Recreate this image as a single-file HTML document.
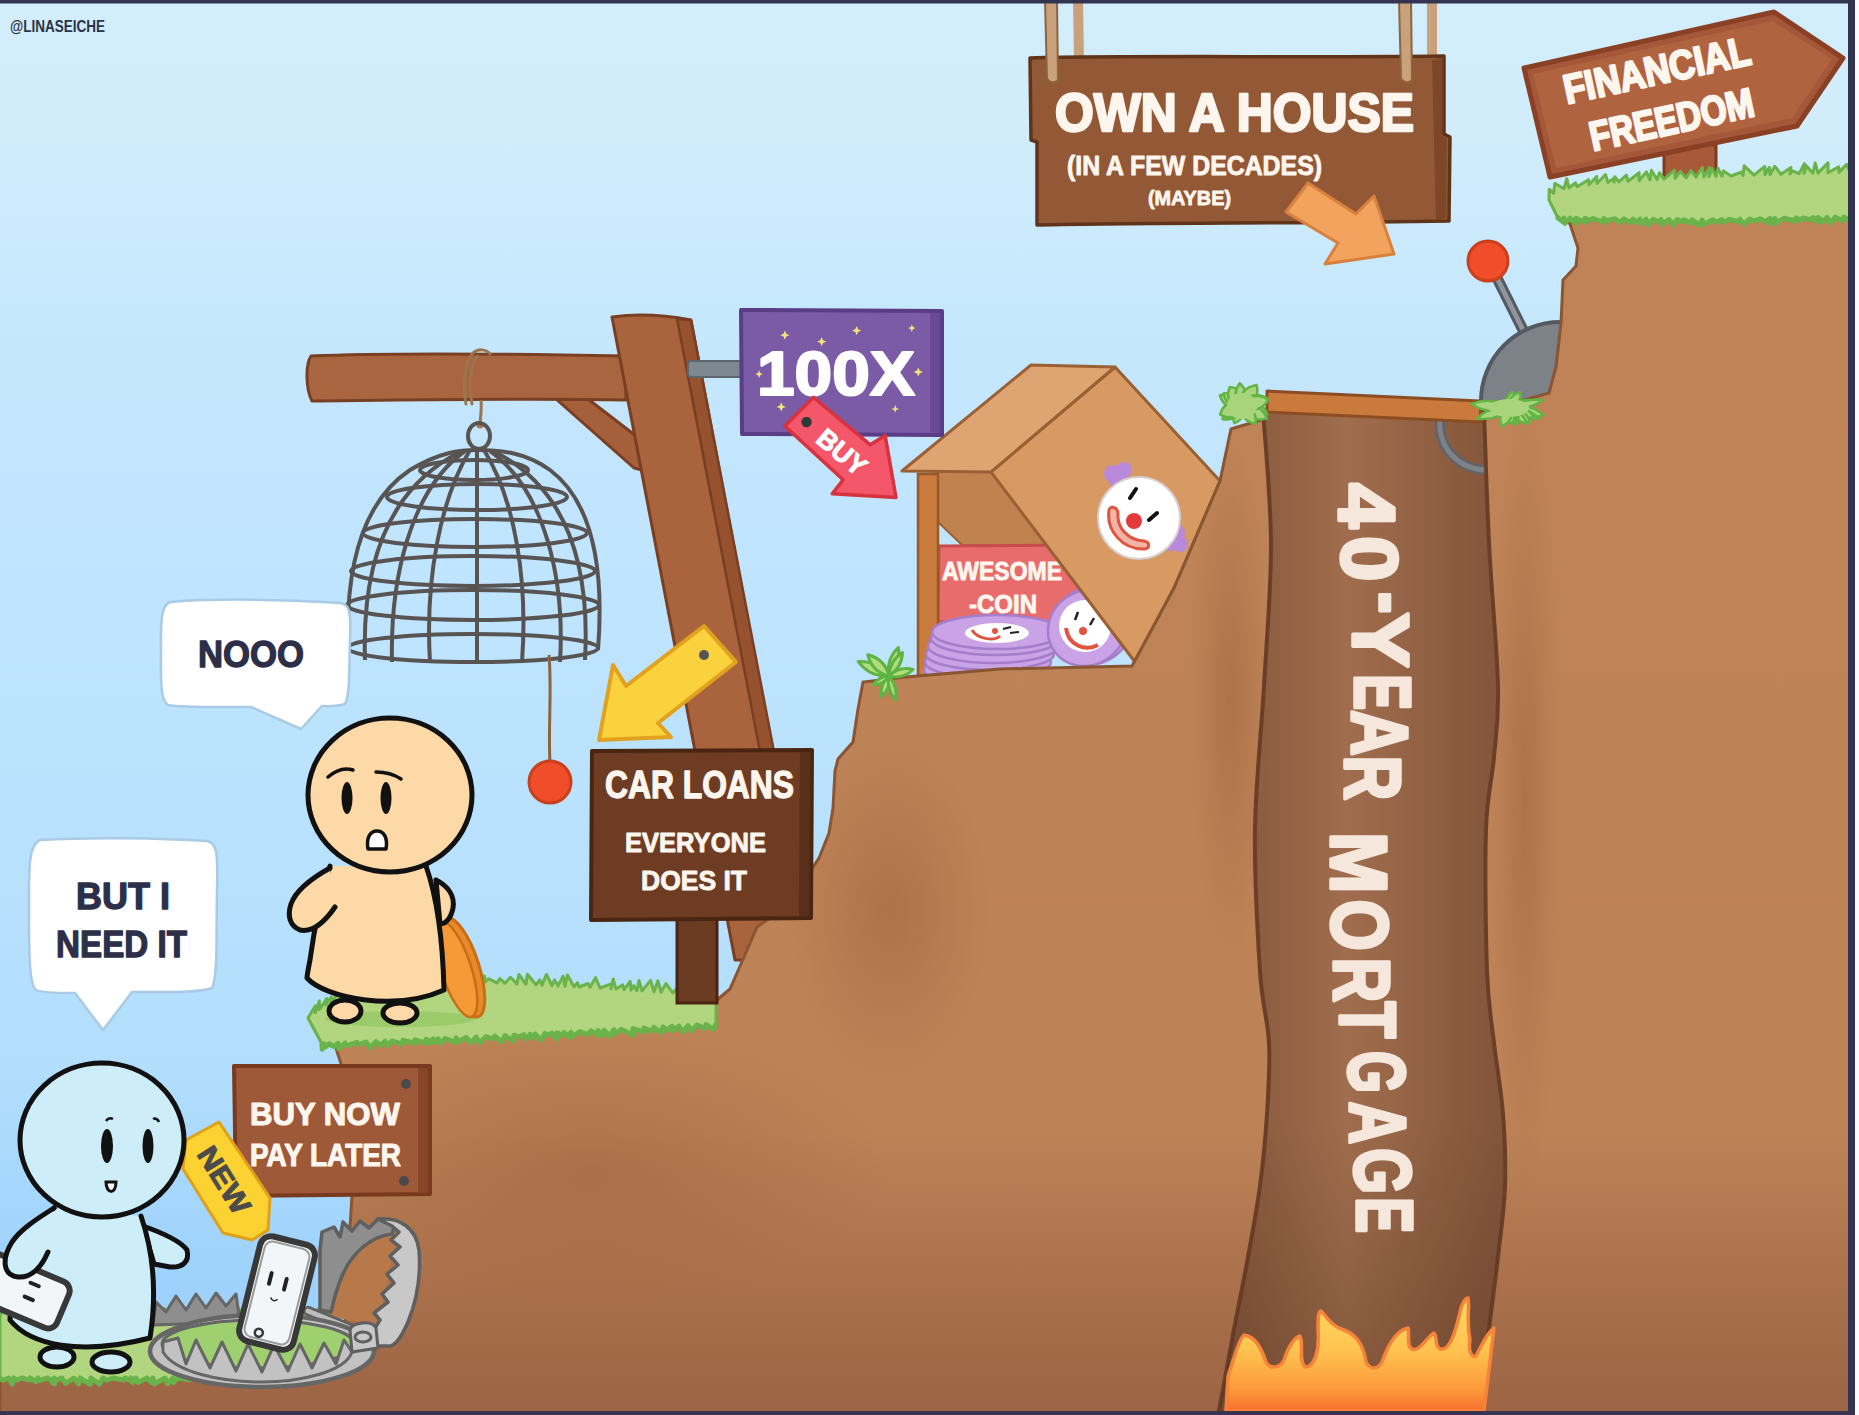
<!DOCTYPE html>
<html><head><meta charset="utf-8">
<style>
html,body{margin:0;padding:0;width:1859px;height:1415px;overflow:hidden;background:#fff;}
svg{display:block;position:absolute;left:0;top:0;}
text{font-family:"Liberation Sans",sans-serif;font-weight:bold;}
</style></head>
<body>
<svg width="1859" height="1415" viewBox="0 0 1859 1415">
<defs>
<linearGradient id="sky" gradientUnits="userSpaceOnUse" x1="0" y1="0" x2="0" y2="1415">
<stop offset="0.0000" stop-color="#d2edfb"/>
<stop offset="0.0919" stop-color="#d1edfc"/>
<stop offset="0.2191" stop-color="#c6e8fd"/>
<stop offset="0.2968" stop-color="#c3e6fe"/>
<stop offset="0.5088" stop-color="#bce3fe"/>
<stop offset="0.7562" stop-color="#b2defc"/>
<stop offset="0.8834" stop-color="#a0d3fc"/>
<stop offset="1.0000" stop-color="#98cefa"/>
</linearGradient>
<linearGradient id="dirt" gradientUnits="userSpaceOnUse" x1="0" y1="200" x2="0" y2="1411">
<stop offset="0" stop-color="#bf8357"/>
<stop offset="0.77" stop-color="#bd8256"/>
<stop offset="0.9" stop-color="#a9704b"/>
<stop offset="1" stop-color="#9d6445"/>
</linearGradient>
<linearGradient id="pitg" x1="0" y1="0" x2="1" y2="0">
<stop offset="0" stop-color="#84553a"/>
<stop offset="0.15" stop-color="#8d5d40"/>
<stop offset="0.45" stop-color="#a06e4e"/>
<stop offset="0.8" stop-color="#8d5d40"/>
<stop offset="1" stop-color="#82543a"/>
</linearGradient>
<linearGradient id="fire" gradientUnits="userSpaceOnUse" x1="0" y1="1300" x2="0" y2="1411">
<stop offset="0" stop-color="#ffd860"/>
<stop offset="0.45" stop-color="#ffc350"/>
<stop offset="0.8" stop-color="#fd9a3c"/>
<stop offset="1" stop-color="#f7702e"/>
</linearGradient>
<linearGradient id="pitshade" gradientUnits="userSpaceOnUse" x1="0" y1="1120" x2="0" y2="1360">
<stop offset="0" stop-color="#4a2a18" stop-opacity="0"/>
<stop offset="1" stop-color="#4a2a18" stop-opacity="0.28"/>
</linearGradient>
<radialGradient id="shade">
<stop offset="0" stop-color="#9a5f38" stop-opacity="0.45"/>
<stop offset="1" stop-color="#9a5f38" stop-opacity="0"/>
</radialGradient>
<clipPath id="terrclip"><path d="M0,1340 L345,1330 L350,1228 L352,1196 L348,1120 L343,1070 L335,1045 L330,1030 L717,1000 L730,989 L744,957 L757,927 L774,915 L804,897 L809,873 L819,858 L829,833 L833,808 L835,771 L838,759 L853,742 L858,709 L863,682 L906,677 L1000,669 L1132,666 L1174,588 L1220,481 L1231,429 L1261,420 L1485,420 L1489,410 L1549,393 L1556,367 L1561,323 L1563,280 L1576,266 L1578,248 L1570,224 L1560,215 L1850,210 L1850,1415 L0,1415 Z"/></clipPath>
</defs>
<rect x="0" y="0" width="1859" height="1415" fill="url(#sky)"/>
<!-- GALLOWS (behind terrain) -->
<g stroke="#7a3f22" stroke-width="3" stroke-linejoin="round">
<path d="M556,399 L588,399 L636,436 L642,470 L634,468 Z" fill="#a55f3b"/>
<path d="M311,356 C400,352 520,354 625,356 L626,400 C520,398 420,400 312,401 C306,390 305,365 311,356 Z" fill="#a9653f"/>
<path d="M612,317 C640,313 670,316 691,320 L812,960 L735,960 Z" fill="#a9643e"/>
<path d="M677,319 L691,320 L814,960 L800,960 Z" fill="#96512f" stroke-width="2.5"/>
</g>
<rect x="688" y="361" width="55" height="16" rx="3" fill="#7e8890" stroke="#5d666c" stroke-width="2"/>
<!-- ropes behind house sign -->
<g stroke="#8c6440" stroke-width="2" fill="none">
<path d="M1078,0 L1079,60" stroke="#c9a27b" stroke-width="10"/>
<path d="M1432,0 L1432,60" stroke="#c9a27b" stroke-width="10"/>
</g>
<rect x="1664" y="145" width="52" height="60" fill="#a85a38" stroke="#7e3c1f" stroke-width="3"/>
<!-- lever (behind terrain) -->
<path d="M1489,262 L1524,332" stroke="#545a5f" stroke-width="11" stroke-linecap="round"/>
<path d="M1489,262 L1524,332" stroke="#8f959a" stroke-width="5" stroke-linecap="round"/>
<circle cx="1488" cy="261" r="20" fill="#f04e2a" stroke="#cc3f1c" stroke-width="3"/>
<circle cx="1560" cy="401" r="79" fill="#7c8288" stroke="#545a5f" stroke-width="4"/>
<!-- BOX (behind terrain) -->
<path d="M936,472 L991,472 L1054,547 L962,545 L936,520 Z" fill="#c08350" stroke="#9a6034" stroke-width="2" stroke-linejoin="round"/>
<path d="M939,546 L1078,545 L1079,622 L938,622 Z" fill="#e96c6c" stroke="#c84c4c" stroke-width="3"/>
<text x="942" y="580" font-size="25" fill="#fff6ee" textLength="120" lengthAdjust="spacingAndGlyphs" stroke="#fff6ee" stroke-width="0.9" stroke-linejoin="round">AWESOME</text>
<text x="969" y="613" font-size="25" fill="#fff6ee" textLength="68" lengthAdjust="spacingAndGlyphs" stroke="#fff6ee" stroke-width="0.9" stroke-linejoin="round">-COIN</text>
<rect x="918" y="474" width="20" height="210" fill="#c97c3e" stroke="#9a5828" stroke-width="2.5"/>
<g stroke="#a47ecb" stroke-width="2.5" fill="#c9a3e6">
<ellipse cx="986" cy="670" rx="62" ry="16"/>
<ellipse cx="988" cy="662" rx="63" ry="16"/>
<ellipse cx="990" cy="654" rx="64" ry="16"/>
<ellipse cx="993" cy="646" rx="65" ry="17"/>
<ellipse cx="996" cy="638" rx="65" ry="17"/>
<ellipse cx="997" cy="632" rx="65" ry="17"/>
</g>
<ellipse cx="997" cy="633" rx="32" ry="10" fill="#ffffff"/>
<path d="M972,630 C978,640 995,641 1000,636" stroke="#e0553f" stroke-width="3" fill="none"/>
<circle cx="995" cy="631" r="3" fill="#e0553f"/>
<path d="M1003,629 l8,-2 M1010,633 l9,-1" stroke="#222" stroke-width="2"/>
<g transform="rotate(-35 1088 626)">
<ellipse cx="1092" cy="628" rx="42" ry="38" fill="#c9a3e6" stroke="#a47ecb" stroke-width="2.5"/>
<ellipse cx="1086" cy="627" rx="40" ry="37" fill="#c9a3e6" stroke="#a47ecb" stroke-width="2.5"/>
</g>
<circle cx="1085" cy="626" r="26" fill="#ffffff"/>
<path d="M1066,628 C1068,645 1085,652 1098,645" stroke="#e0553f" stroke-width="4" fill="none"/>
<circle cx="1083" cy="631" r="4" fill="#e0553f"/>
<path d="M1078,612 l-3,8 M1094,618 l-4,7" stroke="#222" stroke-width="2.5"/>
<path d="M991,472 L1115,367 L1220,481 L1174,588 L1135,662 Z" fill="#d79a62" stroke="#9a6034" stroke-width="3" stroke-linejoin="round"/>
<path d="M902,471 L1031,365 L1115,367 L991,472 Z" fill="#dea573" stroke="#9a6034" stroke-width="3" stroke-linejoin="round"/>
<!-- clown on box -->
<g>
<circle cx="1113" cy="474" r="9" fill="#b98ad9"/><circle cx="1124" cy="470" r="8" fill="#b98ad9"/><circle cx="1118" cy="482" r="8" fill="#b98ad9"/>
<circle cx="1176" cy="533" r="9" fill="#b98ad9"/><circle cx="1180" cy="544" r="8" fill="#b98ad9"/><circle cx="1170" cy="543" r="8" fill="#b98ad9"/>
<circle cx="1139" cy="518" r="41" fill="#ffffff" stroke="#d8d0d0" stroke-width="2"/>
<path d="M1109,510 C1106,530 1122,550 1145,549 C1150,548 1150,542 1144,541 C1128,540 1117,528 1118,514 C1118,507 1110,505 1109,510 Z" fill="#f2b4a6" stroke="#e0553f" stroke-width="3"/>
<circle cx="1134" cy="521" r="8" fill="#e33b3b"/>
<path d="M1130,498 l6,-9 M1149,520 l8,-7" stroke="#111" stroke-width="4" stroke-linecap="round"/>
</g>
<path id="terrain" d="M0,1340 L345,1330 L350,1228 L352,1196 L348,1120 L343,1070 L335,1045 L330,1030 L717,1000 L730,989 L744,957 L757,927 L774,915 L804,897 L809,873 L819,858 L829,833 L833,808 L835,771 L838,759 L853,742 L858,709 L863,682 L906,677 L1000,669 L1132,666 L1174,588 L1220,481 L1231,429 L1261,420 L1485,420 L1489,410 L1549,393 L1556,367 L1561,323 L1563,280 L1576,266 L1578,248 L1570,224 L1560,215 L1850,210 L1850,1415 L0,1415 Z" fill="url(#dirt)" stroke="#8a5530" stroke-width="3"/>
<g clip-path="url(#terrclip)"><ellipse cx="890" cy="910" rx="100" ry="170" fill="url(#shade)"/><ellipse cx="590" cy="1170" rx="300" ry="140" fill="url(#shade)"/><ellipse cx="1230" cy="700" rx="40" ry="260" fill="url(#shade)"/><ellipse cx="1525" cy="800" rx="35" ry="400" fill="url(#shade)"/></g>
<path d="M1263.0,410.0 C1264.3,432.2 1270.8,497.0 1271.0,543.0 C1271.2,589.0 1266.7,638.3 1264.0,686.0 C1261.3,733.7 1255.7,781.5 1255.0,829.0 C1254.3,876.5 1257.7,935.3 1260.0,971.0 C1262.3,1006.7 1267.8,1019.2 1269.0,1043.0 C1270.2,1066.8 1268.5,1090.2 1267.0,1114.0 C1265.5,1137.8 1263.2,1162.2 1260.0,1186.0 C1256.8,1209.8 1252.3,1233.2 1248.0,1257.0 C1243.7,1280.8 1238.5,1305.2 1234.0,1329.0 C1229.5,1352.8 1223.8,1384.8 1221.0,1400.0 C1218.2,1415.2 1217.7,1416.7 1217.0,1420.0 L1478.0,1420.0 C1478.3,1416.7 1478.2,1415.2 1480.0,1400.0 C1481.8,1384.8 1486.0,1352.8 1489.0,1329.0 C1492.0,1305.2 1495.3,1280.8 1498.0,1257.0 C1500.7,1233.2 1504.2,1209.8 1505.0,1186.0 C1505.8,1162.2 1504.8,1137.8 1503.0,1114.0 C1501.2,1090.2 1496.7,1066.8 1494.0,1043.0 C1491.3,1019.2 1488.3,1006.7 1487.0,971.0 C1485.7,935.3 1484.8,864.7 1486.0,829.0 C1487.2,793.3 1492.0,780.8 1494.0,757.0 C1496.0,733.2 1498.8,721.7 1498.0,686.0 C1497.2,650.3 1491.3,589.0 1489.0,543.0 C1486.7,497.0 1484.8,432.2 1484.0,410.0 Z" fill="url(#pitg)" stroke="#6b3f27" stroke-width="4"/>
<path d="M1263.0,410.0 C1264.3,432.2 1270.8,497.0 1271.0,543.0 C1271.2,589.0 1266.7,638.3 1264.0,686.0 C1261.3,733.7 1255.7,781.5 1255.0,829.0 C1254.3,876.5 1257.7,935.3 1260.0,971.0 C1262.3,1006.7 1267.8,1019.2 1269.0,1043.0 C1270.2,1066.8 1268.5,1090.2 1267.0,1114.0 C1265.5,1137.8 1263.2,1162.2 1260.0,1186.0 C1256.8,1209.8 1252.3,1233.2 1248.0,1257.0 C1243.7,1280.8 1238.5,1305.2 1234.0,1329.0 C1229.5,1352.8 1223.8,1384.8 1221.0,1400.0 C1218.2,1415.2 1217.7,1416.7 1217.0,1420.0 L1478.0,1420.0 C1478.3,1416.7 1478.2,1415.2 1480.0,1400.0 C1481.8,1384.8 1486.0,1352.8 1489.0,1329.0 C1492.0,1305.2 1495.3,1280.8 1498.0,1257.0 C1500.7,1233.2 1504.2,1209.8 1505.0,1186.0 C1505.8,1162.2 1504.8,1137.8 1503.0,1114.0 C1501.2,1090.2 1496.7,1066.8 1494.0,1043.0 C1491.3,1019.2 1488.3,1006.7 1487.0,971.0 C1485.7,935.3 1484.8,864.7 1486.0,829.0 C1487.2,793.3 1492.0,780.8 1494.0,757.0 C1496.0,733.2 1498.8,721.7 1498.0,686.0 C1497.2,650.3 1491.3,589.0 1489.0,543.0 C1486.7,497.0 1484.8,432.2 1484.0,410.0 Z" fill="url(#pitshade)"/>
<g font-size="80" fill="#f6e7dc" stroke="#f6e7dc" stroke-width="3.5" stroke-linejoin="round">
<text transform="translate(1367,506) rotate(90) scale(1.022,1)" x="-22.5" y="27.5">4</text>
<text transform="translate(1370,559) rotate(90) scale(1.022,1)" x="-22.5" y="27.5">0</text>
<text transform="translate(1377,603) rotate(90) scale(0.815,1)" x="-13.5" y="13.0">-</text>
<text transform="translate(1381,640) rotate(90) scale(1.038,1)" x="-26.5" y="28.0">Y</text>
<text transform="translate(1383,692) rotate(90) scale(0.679,1)" x="-26.5" y="27.5">E</text>
<text transform="translate(1380,733) rotate(90) scale(0.793,1)" x="-29.0" y="27.5">A</text>
<text transform="translate(1373,778) rotate(90) scale(0.776,1)" x="-29.0" y="27.5">R</text>
<text transform="translate(1359,863) rotate(90) scale(0.925,1)" x="-33.5" y="27.5">M</text>
<text transform="translate(1360,925) rotate(90) scale(0.823,1)" x="-31.0" y="27.5">O</text>
<text transform="translate(1362,980) rotate(90) scale(0.776,1)" x="-29.0" y="27.5">R</text>
<text transform="translate(1368,1020) rotate(90) scale(0.755,1)" x="-24.5" y="27.5">T</text>
<text transform="translate(1377,1072) rotate(90) scale(0.677,1)" x="-31.0" y="27.5">G</text>
<text transform="translate(1378,1123) rotate(90) scale(0.741,1)" x="-29.0" y="27.5">A</text>
<text transform="translate(1383,1171) rotate(90) scale(0.742,1)" x="-31.0" y="27.5">G</text>
<text transform="translate(1385,1215) rotate(90) scale(0.679,1)" x="-26.5" y="27.5">E</text>
</g>

<!-- flames -->
<path d="M1228,1376 C1234,1360 1238,1340 1244,1335 C1256,1336 1262,1350 1266,1362 C1270,1370 1280,1368 1284,1360 C1288,1348 1294,1338 1300,1336 C1304,1345 1298,1360 1305,1367 C1314,1368 1320,1350 1318,1330 C1318,1318 1318,1312 1321,1311 C1326,1315 1330,1326 1344,1330 C1360,1336 1364,1350 1366,1362 C1370,1370 1378,1370 1382,1362 C1388,1345 1396,1330 1408,1328 C1410,1335 1406,1346 1412,1349 C1420,1352 1426,1338 1434,1333 C1438,1338 1434,1346 1440,1349 C1450,1352 1456,1330 1460,1312 C1462,1302 1466,1298 1468,1298 C1470,1308 1466,1320 1470,1340 C1468,1352 1472,1358 1476,1356 C1482,1345 1486,1334 1494,1328 L1484,1411 L1226,1411 Z" fill="url(#fire)" stroke="#f5843a" stroke-width="3.5" stroke-linejoin="round"/>
<!-- grass -->
<path d="M1549.0,200.0 L1549.2,189.2 L1553.7,193.3 L1554.8,183.4 L1564.0,188.7 L1566.8,178.6 L1569.0,187.9 L1575.5,182.8 L1577.0,186.7 L1588.5,179.7 L1589.0,184.8 L1596.7,176.4 L1597.0,183.5 L1605.5,174.5 L1608.0,182.5 L1614.3,178.0 L1614.0,182.2 L1614.7,176.7 L1619.0,181.9 L1626.4,175.0 L1628.0,181.3 L1639.2,172.7 L1639.0,180.7 L1646.4,171.9 L1650.0,180.0 L1651.4,170.3 L1657.0,179.6 L1659.5,172.7 L1664.0,179.2 L1674.5,170.1 L1675.0,178.5 L1680.3,171.4 L1686.0,177.8 L1691.1,170.5 L1696.0,177.2 L1702.3,167.4 L1704.0,176.9 L1709.5,167.5 L1709.0,176.7 L1712.0,168.4 L1716.0,176.5 L1717.9,168.1 L1722.0,176.3 L1723.5,170.9 L1731.0,176.0 L1741.8,172.0 L1743.0,175.6 L1744.3,165.8 L1754.0,175.2 L1764.7,166.3 L1765.0,174.8 L1769.3,167.2 L1770.0,174.7 L1774.7,166.2 L1781.0,174.3 L1790.9,167.4 L1790.0,174.0 L1791.9,170.6 L1799.0,173.7 L1804.4,163.6 L1804.0,173.5 L1806.3,165.8 L1813.0,173.2 L1815.2,162.9 L1818.0,173.1 L1828.0,162.8 L1828.0,172.7 L1838.7,166.7 L1839.0,172.4 L1846.7,164.4 L1850.0,172.0 L1850.0,217.0 L1850.2,221.2 L1844.0,217.1 L1842.4,220.7 L1835.0,217.3 L1831.3,222.8 L1827.0,217.5 L1823.8,221.3 L1818.0,217.6 L1818.4,222.5 L1813.0,217.7 L1810.2,219.7 L1803.0,217.9 L1801.1,220.0 L1796.0,218.1 L1796.2,221.3 L1784.0,218.3 L1776.1,223.1 L1775.0,218.5 L1770.6,224.1 L1770.0,218.6 L1765.6,221.4 L1760.0,218.8 L1752.9,221.3 L1750.0,219.0 L1743.6,224.2 L1740.0,219.2 L1739.0,221.5 L1729.0,219.4 L1724.3,222.5 L1722.0,219.6 L1715.6,222.3 L1713.0,219.7 L1704.2,224.2 L1702.0,220.0 L1699.7,225.4 L1692.0,219.9 L1691.6,223.3 L1684.0,219.8 L1682.9,221.8 L1677.0,219.7 L1673.4,224.9 L1669.0,219.6 L1662.1,224.4 L1661.0,219.5 L1660.5,222.4 L1653.0,219.3 L1649.1,224.4 L1646.0,219.2 L1642.7,224.1 L1640.0,219.2 L1637.3,222.5 L1633.0,219.1 L1630.6,222.6 L1624.0,218.9 L1619.6,222.3 L1615.0,218.8 L1605.2,221.1 L1604.0,218.6 L1604.9,222.5 L1593.0,218.5 L1589.5,220.3 L1585.0,218.4 L1584.9,222.2 L1576.0,218.3 L1576.4,223.3 L1570.0,218.2 L1564.9,223.1 L1564.0,218.1 L1565.0,223.3 L1558.0,218.0 Z" fill="#b2d57f" stroke="#69b34a" stroke-width="3" stroke-linejoin="round" stroke-linecap="round"/><path d="M1850.0,217.0 L1850.2,221.2 L1844.0,217.1 L1842.4,220.7 L1835.0,217.3 L1831.3,222.8 L1827.0,217.5 L1823.8,221.3 L1818.0,217.6 L1818.4,222.5 L1813.0,217.7 L1810.2,219.7 L1803.0,217.9 L1801.1,220.0 L1796.0,218.1 L1796.2,221.3 L1784.0,218.3 L1776.1,223.1 L1775.0,218.5 L1770.6,224.1 L1770.0,218.6 L1765.6,221.4 L1760.0,218.8 L1752.9,221.3 L1750.0,219.0 L1743.6,224.2 L1740.0,219.2 L1739.0,221.5 L1729.0,219.4 L1724.3,222.5 L1722.0,219.6 L1715.6,222.3 L1713.0,219.7 L1704.2,224.2 L1702.0,220.0 L1699.7,225.4 L1692.0,219.9 L1691.6,223.3 L1684.0,219.8 L1682.9,221.8 L1677.0,219.7 L1673.4,224.9 L1669.0,219.6 L1662.1,224.4 L1661.0,219.5 L1660.5,222.4 L1653.0,219.3 L1649.1,224.4 L1646.0,219.2 L1642.7,224.1 L1640.0,219.2 L1637.3,222.5 L1633.0,219.1 L1630.6,222.6 L1624.0,218.9 L1619.6,222.3 L1615.0,218.8 L1605.2,221.1 L1604.0,218.6 L1604.9,222.5 L1593.0,218.5 L1589.5,220.3 L1585.0,218.4 L1584.9,222.2 L1576.0,218.3 L1576.4,223.3 L1570.0,218.2 L1564.9,223.1 L1564.0,218.1 L1565.0,223.3 L1558.0,218.0" fill="none" stroke="#69b34a" stroke-width="5" stroke-linejoin="round" stroke-linecap="round"/>
<path d="M308.0,1018.0 L315.2,1005.9 L315.3,1012.7 L319.3,1001.0 L319.4,1009.7 L326.7,998.6 L325.9,1005.0 L331.3,996.9 L331.0,1001.9 L338.4,993.3 L341.9,1000.4 L344.4,990.7 L346.9,999.7 L352.9,988.5 L353.8,998.8 L355.0,988.8 L360.8,997.9 L362.0,992.6 L372.7,996.3 L374.3,990.8 L377.7,995.6 L380.4,984.7 L384.6,994.7 L390.8,986.4 L392.6,993.7 L401.1,988.2 L400.5,992.6 L408.5,980.8 L408.5,991.5 L413.1,987.3 L417.4,990.3 L420.4,984.3 L424.4,989.4 L428.4,980.8 L429.3,988.8 L434.8,982.4 L435.3,988.0 L438.7,978.1 L447.2,986.4 L449.1,976.4 L459.1,984.8 L461.4,973.4 L464.1,984.1 L473.8,979.7 L475.0,982.7 L484.4,975.9 L485.0,982.2 L488.4,978.7 L497.0,982.9 L499.8,978.6 L505.0,983.2 L510.5,977.3 L517.0,983.9 L518.9,974.4 L526.0,984.3 L527.4,974.2 L536.0,984.8 L539.7,979.8 L542.0,985.1 L546.4,974.5 L552.0,985.6 L554.5,979.8 L558.0,985.9 L563.1,976.2 L565.0,986.2 L567.4,975.0 L574.0,986.7 L577.5,982.7 L579.0,987.0 L588.2,983.5 L590.0,987.5 L595.6,977.6 L600.0,988.0 L611.9,983.7 L611.0,988.8 L613.2,979.0 L616.0,989.1 L622.7,984.8 L624.0,989.7 L630.2,981.4 L631.0,990.1 L633.8,985.5 L637.0,990.6 L639.0,980.5 L642.0,990.9 L650.6,980.4 L654.0,991.7 L657.9,980.7 L661.0,992.2 L666.0,983.6 L673.0,993.0 L677.5,987.5 L682.0,993.7 L688.5,989.5 L689.0,994.1 L693.2,985.9 L696.0,994.6 L701.9,990.0 L706.0,995.3 L715.0,991.7 L716.0,996.0 L716.0,1024.0 L713.6,1029.3 L706.0,1024.6 L704.2,1028.3 L697.0,1025.1 L691.3,1030.9 L688.0,1025.6 L683.0,1031.9 L679.0,1026.1 L672.8,1030.7 L672.0,1026.4 L666.4,1030.1 L663.0,1026.9 L660.7,1032.7 L654.0,1027.4 L651.4,1031.2 L644.0,1028.0 L643.4,1031.8 L633.0,1028.6 L633.7,1035.2 L621.0,1029.3 L615.9,1033.7 L614.0,1029.7 L609.8,1036.0 L604.0,1030.2 L603.0,1035.5 L598.0,1030.6 L598.3,1035.4 L591.0,1030.9 L587.2,1034.5 L580.0,1031.6 L572.1,1036.9 L571.0,1032.1 L569.1,1036.8 L564.0,1032.4 L562.5,1035.5 L557.0,1032.8 L557.4,1039.2 L552.0,1033.1 L546.6,1035.5 L545.0,1033.5 L540.8,1040.0 L535.0,1034.1 L532.3,1037.9 L530.0,1034.3 L526.0,1039.0 L524.0,1034.7 L519.1,1036.9 L514.0,1035.2 L513.7,1041.2 L505.0,1035.7 L501.5,1042.1 L495.0,1036.2 L491.8,1038.8 L486.0,1036.6 L479.9,1043.0 L476.0,1037.1 L471.2,1042.8 L466.0,1037.5 L458.6,1041.7 L456.0,1038.0 L456.6,1042.6 L445.0,1038.5 L441.2,1043.2 L438.0,1038.8 L435.1,1042.5 L433.0,1039.0 L432.8,1042.5 L426.0,1039.3 L426.8,1043.4 L415.0,1039.8 L415.9,1043.3 L403.0,1040.4 L402.5,1044.2 L392.0,1040.9 L387.5,1045.6 L385.0,1041.2 L380.6,1045.5 L376.0,1041.6 L370.1,1047.9 L366.0,1042.0 L358.1,1044.8 L357.0,1042.4 L346.7,1045.7 L345.0,1043.0 L338.8,1048.7 L338.0,1043.3 L334.2,1046.5 L329.0,1043.7 L325.8,1046.8 L324.0,1043.9 L322.2,1049.1 L322.0,1044.0 Z" fill="#b2d57f" stroke="#69b34a" stroke-width="3" stroke-linejoin="round" stroke-linecap="round"/><path d="M716.0,1024.0 L713.6,1029.3 L706.0,1024.6 L704.2,1028.3 L697.0,1025.1 L691.3,1030.9 L688.0,1025.6 L683.0,1031.9 L679.0,1026.1 L672.8,1030.7 L672.0,1026.4 L666.4,1030.1 L663.0,1026.9 L660.7,1032.7 L654.0,1027.4 L651.4,1031.2 L644.0,1028.0 L643.4,1031.8 L633.0,1028.6 L633.7,1035.2 L621.0,1029.3 L615.9,1033.7 L614.0,1029.7 L609.8,1036.0 L604.0,1030.2 L603.0,1035.5 L598.0,1030.6 L598.3,1035.4 L591.0,1030.9 L587.2,1034.5 L580.0,1031.6 L572.1,1036.9 L571.0,1032.1 L569.1,1036.8 L564.0,1032.4 L562.5,1035.5 L557.0,1032.8 L557.4,1039.2 L552.0,1033.1 L546.6,1035.5 L545.0,1033.5 L540.8,1040.0 L535.0,1034.1 L532.3,1037.9 L530.0,1034.3 L526.0,1039.0 L524.0,1034.7 L519.1,1036.9 L514.0,1035.2 L513.7,1041.2 L505.0,1035.7 L501.5,1042.1 L495.0,1036.2 L491.8,1038.8 L486.0,1036.6 L479.9,1043.0 L476.0,1037.1 L471.2,1042.8 L466.0,1037.5 L458.6,1041.7 L456.0,1038.0 L456.6,1042.6 L445.0,1038.5 L441.2,1043.2 L438.0,1038.8 L435.1,1042.5 L433.0,1039.0 L432.8,1042.5 L426.0,1039.3 L426.8,1043.4 L415.0,1039.8 L415.9,1043.3 L403.0,1040.4 L402.5,1044.2 L392.0,1040.9 L387.5,1045.6 L385.0,1041.2 L380.6,1045.5 L376.0,1041.6 L370.1,1047.9 L366.0,1042.0 L358.1,1044.8 L357.0,1042.4 L346.7,1045.7 L345.0,1043.0 L338.8,1048.7 L338.0,1043.3 L334.2,1046.5 L329.0,1043.7 L325.8,1046.8 L324.0,1043.9 L322.2,1049.1 L322.0,1044.0" fill="none" stroke="#69b34a" stroke-width="5" stroke-linejoin="round" stroke-linecap="round"/>
<path d="M0.0,1316.0 L4.4,1307.4 L12.0,1315.7 L12.7,1305.2 L19.0,1315.5 L21.2,1304.6 L31.0,1315.2 L32.3,1305.8 L36.0,1315.0 L42.3,1303.8 L48.0,1314.7 L49.5,1309.2 L55.0,1314.5 L57.9,1304.8 L61.0,1314.4 L62.8,1303.4 L67.0,1314.2 L71.2,1304.8 L75.0,1314.0 L81.1,1304.2 L81.0,1313.8 L91.0,1307.9 L92.0,1313.5 L92.8,1304.3 L100.0,1313.3 L105.3,1309.2 L111.0,1313.0 L115.0,1308.3 L123.0,1312.7 L123.6,1301.4 L129.0,1312.6 L131.4,1301.8 L137.0,1312.3 L138.2,1301.6 L142.0,1312.2 L145.4,1304.6 L147.0,1312.1 L151.0,1305.2 L155.0,1312.1 L156.5,1303.1 L161.0,1312.2 L164.3,1308.4 L166.0,1312.4 L171.9,1303.0 L173.0,1312.5 L177.0,1308.1 L178.0,1312.6 L182.8,1307.9 L186.0,1312.8 L192.2,1302.6 L196.0,1313.0 L197.3,1302.6 L202.0,1313.2 L207.0,1306.2 L212.0,1313.4 L215.5,1306.9 L217.0,1313.5 L218.6,1306.6 L222.0,1313.6 L233.0,1308.1 L234.0,1313.9 L235.8,1305.4 L243.0,1314.1 L247.4,1310.4 L248.0,1314.2 L256.9,1306.8 L259.0,1314.4 L260.3,1306.5 L267.0,1314.6 L273.9,1310.4 L275.0,1314.8 L281.6,1303.7 L285.0,1315.0 L286.9,1306.2 L292.0,1315.2 L301.4,1311.5 L301.0,1315.4 L302.8,1309.8 L308.0,1315.5 L308.7,1307.2 L314.0,1315.6 L318.4,1308.6 L319.0,1315.8 L328.6,1307.5 L328.0,1316.0 L329.8,1310.2 L330.0,1316.0 L330.0,1372.0 L322.7,1374.7 L321.0,1372.3 L313.5,1377.5 L312.0,1372.7 L307.9,1375.5 L300.0,1373.1 L298.9,1377.8 L289.0,1373.5 L288.8,1379.0 L280.0,1373.9 L280.3,1377.6 L268.0,1374.3 L261.5,1378.7 L259.0,1374.7 L258.3,1377.4 L253.0,1374.9 L250.9,1377.8 L248.0,1375.1 L244.1,1377.6 L237.0,1375.5 L237.4,1379.9 L228.0,1375.8 L226.4,1380.4 L223.0,1376.0 L218.9,1380.5 L212.0,1376.4 L210.0,1382.3 L206.0,1376.7 L199.9,1379.0 L197.0,1377.0 L195.6,1379.5 L190.0,1377.2 L189.9,1379.7 L178.0,1377.7 L173.6,1382.7 L173.0,1377.9 L167.6,1383.7 L165.0,1378.0 L154.6,1383.8 L153.0,1378.0 L151.7,1382.6 L147.0,1378.0 L138.0,1382.5 L136.0,1378.0 L132.4,1382.6 L131.0,1378.0 L129.3,1380.1 L125.0,1378.0 L123.5,1380.0 L113.0,1378.0 L107.2,1380.3 L103.0,1378.0 L99.3,1384.1 L91.0,1378.0 L90.3,1384.3 L80.0,1378.0 L78.6,1383.9 L74.0,1378.0 L65.5,1383.4 L62.0,1378.0 L55.2,1380.4 L54.0,1378.0 L54.5,1384.1 L48.0,1378.0 L39.2,1380.4 L38.0,1378.0 L35.9,1381.6 L30.0,1378.0 L28.9,1379.9 L22.0,1378.0 L16.8,1380.0 L14.0,1378.0 L12.1,1384.2 L9.0,1378.0 L2.9,1380.2 L0.0,1378.0 Z" fill="#b2d57f" stroke="#69b34a" stroke-width="3" stroke-linejoin="round" stroke-linecap="round"/><path d="M330.0,1372.0 L322.7,1374.7 L321.0,1372.3 L313.5,1377.5 L312.0,1372.7 L307.9,1375.5 L300.0,1373.1 L298.9,1377.8 L289.0,1373.5 L288.8,1379.0 L280.0,1373.9 L280.3,1377.6 L268.0,1374.3 L261.5,1378.7 L259.0,1374.7 L258.3,1377.4 L253.0,1374.9 L250.9,1377.8 L248.0,1375.1 L244.1,1377.6 L237.0,1375.5 L237.4,1379.9 L228.0,1375.8 L226.4,1380.4 L223.0,1376.0 L218.9,1380.5 L212.0,1376.4 L210.0,1382.3 L206.0,1376.7 L199.9,1379.0 L197.0,1377.0 L195.6,1379.5 L190.0,1377.2 L189.9,1379.7 L178.0,1377.7 L173.6,1382.7 L173.0,1377.9 L167.6,1383.7 L165.0,1378.0 L154.6,1383.8 L153.0,1378.0 L151.7,1382.6 L147.0,1378.0 L138.0,1382.5 L136.0,1378.0 L132.4,1382.6 L131.0,1378.0 L129.3,1380.1 L125.0,1378.0 L123.5,1380.0 L113.0,1378.0 L107.2,1380.3 L103.0,1378.0 L99.3,1384.1 L91.0,1378.0 L90.3,1384.3 L80.0,1378.0 L78.6,1383.9 L74.0,1378.0 L65.5,1383.4 L62.0,1378.0 L55.2,1380.4 L54.0,1378.0 L54.5,1384.1 L48.0,1378.0 L39.2,1380.4 L38.0,1378.0 L35.9,1381.6 L30.0,1378.0 L28.9,1379.9 L22.0,1378.0 L16.8,1380.0 L14.0,1378.0 L12.1,1384.2 L9.0,1378.0 L2.9,1380.2 L0.0,1378.0" fill="none" stroke="#69b34a" stroke-width="5" stroke-linejoin="round" stroke-linecap="round"/>
<!-- plank + hook -->
<path d="M1440,420 C1438,448 1458,468 1484,470" stroke="#5e6469" stroke-width="10" fill="none"/>
<path d="M1440,420 C1438,448 1458,468 1484,470" stroke="#7c8288" stroke-width="5" fill="none"/>
<path d="M1267,391 L1480,401 L1481,422 L1267,412 Z" fill="#c97a3c" stroke="#8d4d22" stroke-width="3" stroke-linejoin="round"/>
<g fill="#a8d57c" stroke="#62b445" stroke-width="2.5" stroke-linejoin="round"><path d="M1242.0,406.0 Q1249.6,423.6 1267.4,414.1 Q1259.7,396.4 1242.0,406.0 Z"/><path d="M1242.0,406.0 Q1248.3,422.7 1267.0,418.6 Q1260.6,401.9 1242.0,406.0 Z"/><path d="M1242.0,406.0 Q1239.8,420.7 1255.5,423.8 Q1257.7,409.1 1242.0,406.0 Z"/><path d="M1242.0,406.0 Q1229.4,411.2 1234.4,423.1 Q1247.0,417.9 1242.0,406.0 Z"/><path d="M1242.0,406.0 Q1225.5,404.1 1222.5,419.2 Q1239.0,421.2 1242.0,406.0 Z"/><path d="M1242.0,406.0 Q1225.1,397.7 1220.1,414.7 Q1236.9,423.0 1242.0,406.0 Z"/><path d="M1242.0,406.0 Q1236.9,390.0 1219.8,395.4 Q1225.0,411.3 1242.0,406.0 Z"/><path d="M1242.0,406.0 Q1238.7,392.6 1223.9,393.8 Q1227.2,407.3 1242.0,406.0 Z"/><path d="M1242.0,406.0 Q1238.9,391.9 1223.4,393.4 Q1226.5,407.5 1242.0,406.0 Z"/><path d="M1242.0,406.0 Q1248.6,389.5 1229.8,387.0 Q1223.2,403.5 1242.0,406.0 Z"/><path d="M1242.0,406.0 Q1251.0,393.7 1239.7,383.2 Q1230.7,395.5 1242.0,406.0 Z"/><path d="M1242.0,406.0 Q1260.8,402.4 1256.6,385.0 Q1237.7,388.6 1242.0,406.0 Z"/><path d="M1242.0,406.0 Q1259.4,415.5 1267.7,398.5 Q1250.3,389.0 1242.0,406.0 Z"/><path d="M1242.0,406.0 Q1258.8,415.7 1268.4,399.6 Q1251.5,389.9 1242.0,406.0 Z"/><ellipse cx="1242" cy="406" rx="15" ry="13" stroke="none"/></g>
<g fill="#a8d57c" stroke="#62b445" stroke-width="2.5" stroke-linejoin="round"><path d="M1509.0,408.0 Q1522.2,420.9 1543.7,415.3 Q1530.5,402.4 1509.0,408.0 Z"/><path d="M1509.0,408.0 Q1519.4,419.5 1539.0,418.8 Q1528.6,407.2 1509.0,408.0 Z"/><path d="M1509.0,408.0 Q1515.8,420.1 1534.2,417.4 Q1527.4,405.3 1509.0,408.0 Z"/><path d="M1509.0,408.0 Q1510.8,421.0 1529.7,422.4 Q1527.9,409.4 1509.0,408.0 Z"/><path d="M1509.0,408.0 Q1511.6,419.5 1527.0,424.1 Q1524.4,412.7 1509.0,408.0 Z"/><path d="M1509.0,408.0 Q1503.6,418.3 1516.9,424.4 Q1522.3,414.0 1509.0,408.0 Z"/><path d="M1509.0,408.0 Q1504.5,417.3 1515.0,424.0 Q1519.5,414.7 1509.0,408.0 Z"/><path d="M1509.0,408.0 Q1503.2,416.6 1512.0,424.0 Q1517.7,415.4 1509.0,408.0 Z"/><path d="M1509.0,408.0 Q1495.5,415.4 1502.5,426.3 Q1515.9,418.9 1509.0,408.0 Z"/><path d="M1509.0,408.0 Q1490.3,406.6 1481.4,418.0 Q1500.1,419.4 1509.0,408.0 Z"/><path d="M1509.0,408.0 Q1487.8,405.8 1477.3,418.7 Q1498.5,420.8 1509.0,408.0 Z"/><path d="M1509.0,408.0 Q1492.6,395.9 1471.5,403.8 Q1487.9,415.9 1509.0,408.0 Z"/><path d="M1509.0,408.0 Q1519.2,400.7 1512.3,391.8 Q1502.1,399.1 1509.0,408.0 Z"/><path d="M1509.0,408.0 Q1522.7,402.7 1520.0,392.1 Q1506.3,397.4 1509.0,408.0 Z"/><path d="M1509.0,408.0 Q1526.2,411.5 1535.4,400.9 Q1518.2,397.4 1509.0,408.0 Z"/><path d="M1509.0,408.0 Q1529.1,410.4 1542.9,400.1 Q1522.8,397.7 1509.0,408.0 Z"/><ellipse cx="1509" cy="408" rx="20" ry="9" stroke="none"/></g>
<!-- OWN A HOUSE sign -->
<path d="M1030,58 C1150,55 1300,58 1444,56 L1444,134 L1450,137 L1449,221 C1300,224 1150,222 1037,225 L1037,142 L1031,140 Z" fill="#935835" stroke="#603419" stroke-width="3.5" stroke-linejoin="round"/>
<path d="M1432,60 L1442,58 L1442,136 L1447,139 L1446,218 L1436,220 Z" fill="#7e4727"/>
<g stroke="#8c6440" stroke-width="2" fill="#c9a27b">
<path d="M1045,0 L1057,0 L1058,80 C1054,84 1048,82 1047,78 Z"/>
<path d="M1399,0 L1411,0 L1412,80 C1408,84 1402,82 1401,78 Z"/>
</g>
<text x="1055" y="131" font-size="53" fill="#fdf6ee" textLength="359" lengthAdjust="spacingAndGlyphs" stroke="#fdf6ee" stroke-width="2.6" stroke-linejoin="round">OWN A HOUSE</text>
<text x="1067" y="175" font-size="27" fill="#fdf6ee" textLength="255" lengthAdjust="spacingAndGlyphs" stroke="#fdf6ee" stroke-width="0.9" stroke-linejoin="round">(IN A FEW DECADES)</text>
<text x="1148" y="205" font-size="21" fill="#fdf6ee" textLength="83" lengthAdjust="spacingAndGlyphs" stroke="#fdf6ee" stroke-width="0.8" stroke-linejoin="round">(MAYBE)</text>
<path d="M1286,212 L1308,183 L1356,214 L1374,196 L1394,254 L1325,264 L1338,243 Z" fill="#f2a35e" stroke="#d9803e" stroke-width="3" stroke-linejoin="round"/>

<!-- FINANCIAL FREEDOM -->
<path d="M1524,68 L1774,12 L1843,58 L1797,126 L1550,177 Z" fill="#a5573a" stroke="#8a4024" stroke-width="5" stroke-linejoin="round"/>
<path d="M1533,74 L1772,21 L1832,59 L1792,118 L1556,168 Z" fill="#b0633f"/>
<g transform="translate(1567,104) rotate(-12.2)"><text x="0" y="0" font-size="41" fill="#fdf6ee" textLength="190" lengthAdjust="spacingAndGlyphs" stroke="#fdf6ee" stroke-width="2.4" stroke-linejoin="round">FINANCIAL</text></g>
<g transform="translate(1593,151) rotate(-12.2)"><text x="0" y="0" font-size="41" fill="#fdf6ee" textLength="167" lengthAdjust="spacingAndGlyphs" stroke="#fdf6ee" stroke-width="2.4" stroke-linejoin="round">FREEDOM</text></g>

<!-- 100X sign -->
<path d="M741,310 L942,311 L942,435 L742,434 Z" fill="#7b5aa6" stroke="#5b3c87" stroke-width="4" stroke-linejoin="round"/>
<path d="M930,313 L940,313 L940,433 L930,432 Z" fill="#6a4a95"/>
<g fill="#f7df7a" transform="translate(841,372) scale(0.92) translate(-841,-372)">
<path d="M780,327 l1.5,3.5 3.5,1.5 -3.5,1.5 -1.5,3.5 -1.5,-3.5 -3.5,-1.5 3.5,-1.5z"/>
<path d="M820,334 l1.5,3.5 3.5,1.5 -3.5,1.5 -1.5,3.5 -1.5,-3.5 -3.5,-1.5 3.5,-1.5z"/>
<path d="M858,322 l1.5,3.5 3.5,1.5 -3.5,1.5 -1.5,3.5 -1.5,-3.5 -3.5,-1.5 3.5,-1.5z"/>
<path d="M918,320 l1.2,3 3,1.2 -3,1.2 -1.2,3 -1.2,-3 -3,-1.2 3,-1.2z"/>
<path d="M925,367 l1.5,3.5 3.5,1.5 -3.5,1.5 -1.5,3.5 -1.5,-3.5 -3.5,-1.5 3.5,-1.5z"/>
<path d="M752,370 l1.2,3 3,1.2 -3,1.2 -1.2,3 -1.2,-3 -3,-1.2 3,-1.2z"/>
<path d="M776,405 l1.5,3.5 3.5,1.5 -3.5,1.5 -1.5,3.5 -1.5,-3.5 -3.5,-1.5 3.5,-1.5z"/>
<path d="M900,408 l1.2,3 3,1.2 -3,1.2 -1.2,3 -1.2,-3 -3,-1.2 3,-1.2z"/>
</g>
<text x="757" y="395" font-size="63" fill="#ffffff" textLength="158" lengthAdjust="spacingAndGlyphs" stroke="#ffffff" stroke-width="2.2" stroke-linejoin="round">100X</text>
<!-- BUY tag -->
<path d="M784.8,426 L813.5,397.3 L870.3,444.8 L885.1,435.4 L896,497.6 L832.2,493.8 L843.1,479.8 Z" fill="#f4566a" stroke="#d7333f" stroke-width="3.5" stroke-linejoin="round"/>
<circle cx="806.5" cy="422" r="5.2" fill="#2f3a36"/>
<text transform="translate(842,452) rotate(40)" text-anchor="middle" dy="9.5" font-size="27" fill="#ffffff" stroke="#ffffff" stroke-width="1" textLength="56" lengthAdjust="spacingAndGlyphs">BUY</text>

<!-- CAGE -->
<path d="M481,400 C482,410 480,418 480,426" stroke="#9a7550" stroke-width="3" fill="none"/>
<path d="M466,404 C463,385 464,365 472,354 C478,348 486,349 490,354 M472,404 C469,385 470,366 477,356" stroke="#9a7550" stroke-width="3" fill="none" stroke-linecap="round"/>
<circle cx="480" cy="425" r="3.5" fill="#a9764a"/>
<g fill="none" stroke="#575453" stroke-width="4">
<ellipse cx="479" cy="436" rx="11" ry="13"/>
<path d="M348,650 C345,560 365,500 410,470 C440,452 460,450 477,450 C500,450 525,452 550,470 C590,500 605,560 598,650"/>
<ellipse cx="474" cy="470" rx="54" ry="10"/>
<ellipse cx="477" cy="497" rx="90" ry="13"/>
<ellipse cx="475" cy="533" rx="112" ry="14"/>
<ellipse cx="473" cy="571" rx="122" ry="15"/>
<ellipse cx="473" cy="605" rx="126" ry="15"/>
<ellipse cx="473" cy="648" rx="125" ry="14"/>
<path d="M477,450 L477,662"/>
<path d="M470,450 C440,500 425,580 430,662"/>
<path d="M484,450 C515,500 528,580 522,662"/>
<path d="M465,451 C410,490 390,580 392,662"/>
<path d="M490,451 C545,490 565,580 560,662"/>
<path d="M460,452 C385,490 362,570 365,660"/>
<path d="M495,452 C570,490 590,570 585,660"/>
</g>
<!-- hanging ball -->
<path d="M549,655 C552,690 548,730 550,763" stroke="#8c6440" stroke-width="3" fill="none"/>
<circle cx="550" cy="782" r="21" fill="#f04e2a" stroke="#c9401d" stroke-width="3"/>

<!-- yellow arrow -->
<path d="M704,626 L736,662 L658,723 L671,737 L599,740 L613,665 L626,686 Z" fill="#f9d23e" stroke="#e2a11e" stroke-width="4" stroke-linejoin="round"/>
<circle cx="704" cy="655" r="5" fill="#555"/>

<!-- CAR LOANS -->
<rect x="677" y="915" width="40" height="88" fill="#6b3b22" stroke="#4a2512" stroke-width="3"/>
<path d="M592,751 L812,750 L811,918 L591,920 Z" fill="#6d3c22" stroke="#4a2512" stroke-width="4" stroke-linejoin="round"/>
<path d="M800,752 L810,752 L809,916 L799,917 Z" fill="#5a2f19"/>
<text x="605" y="798" font-size="38" fill="#fdf6ee" textLength="189" lengthAdjust="spacingAndGlyphs" stroke="#fdf6ee" stroke-width="1.3" stroke-linejoin="round">CAR LOANS</text>
<text x="625" y="852" font-size="27" fill="#fdf6ee" textLength="141" lengthAdjust="spacingAndGlyphs" stroke="#fdf6ee" stroke-width="0.9" stroke-linejoin="round">EVERYONE</text>
<text x="641" y="890" font-size="27" fill="#fdf6ee" textLength="106" lengthAdjust="spacingAndGlyphs" stroke="#fdf6ee" stroke-width="0.9" stroke-linejoin="round">DOES IT</text>

<!-- BNPL sign -->
<path d="M234,1066 L430,1066 L430,1194 L236,1196 Z" fill="#9e5939" stroke="#78391f" stroke-width="4" stroke-linejoin="round"/>
<path d="M418,1068 L428,1068 L428,1192 L418,1193 Z" fill="#874628"/>
<circle cx="406" cy="1084" r="5" fill="#4a4a4a"/>
<circle cx="404" cy="1181" r="5" fill="#4a4a4a"/>
<text x="250" y="1125" font-size="31" fill="#fdf6ee" textLength="150" lengthAdjust="spacingAndGlyphs" stroke="#fdf6ee" stroke-width="1.1" stroke-linejoin="round">BUY NOW</text>
<text x="250" y="1166" font-size="31" fill="#fdf6ee" textLength="151" lengthAdjust="spacingAndGlyphs" stroke="#fdf6ee" stroke-width="1.1" stroke-linejoin="round">PAY LATER</text>
<!-- plant -->
<g fill="#b2dc7c" stroke="#5db443" stroke-width="3" stroke-linejoin="round"><path d="M889.0,676.0 Q877.4,660.7 858.2,661.6 Q869.8,677.0 889.0,676.0 Z"/><path d="M889.0,676.0 Q884.8,659.0 867.8,654.8 Q872.0,671.8 889.0,676.0 Z"/><path d="M889.0,676.0 Q901.2,664.2 898.3,647.5 Q886.0,659.3 889.0,676.0 Z"/><path d="M889.0,676.0 Q901.8,667.8 902.5,652.6 Q889.7,660.8 889.0,676.0 Z"/><path d="M889.0,676.0 Q902.9,679.5 913.1,669.5 Q899.3,666.0 889.0,676.0 Z"/><path d="M889.0,676.0 Q879.6,684.3 881.5,696.7 Q890.9,688.4 889.0,676.0 Z"/><path d="M889.0,676.0 Q886.4,689.6 895.5,700.1 Q898.0,686.5 889.0,676.0 Z"/><path d="M889.0,676.0 Q878.7,676.2 873.4,685.0 Q883.7,684.8 889.0,676.0 Z"/></g>
<!-- bubbles -->
<path d="M170,602 C220,598 290,600 340,603 C350,604 351,612 350,640 C349,670 350,695 345,704 C335,707 325,706 322,706 L301,729 L251,707 C220,707 185,708 168,705 C160,700 161,680 161,650 C161,625 160,606 170,602 Z" fill="#ffffff" stroke="#a9cbe6" stroke-width="2.5"/>
<text x="198" y="667" font-size="36" fill="#2d2f48" textLength="106" lengthAdjust="spacingAndGlyphs" stroke="#2d2f48" stroke-width="1.3" stroke-linejoin="round">NOOO</text>
<path d="M40,840 C90,837 160,838 207,841 C217,843 218,852 217,890 C216,940 218,975 212,988 C200,993 160,992 132,992 L103,1030 L75,993 C60,993 42,993 36,990 C29,985 29,950 29,910 C29,870 28,845 40,840 Z" fill="#ffffff" stroke="#a9cbe6" stroke-width="2.5"/>
<text x="76" y="909" font-size="37" fill="#2d2f48" textLength="94" lengthAdjust="spacingAndGlyphs" stroke="#2d2f48" stroke-width="1.3" stroke-linejoin="round">BUT I</text>
<text x="56" y="957" font-size="37" fill="#2d2f48" textLength="131" lengthAdjust="spacingAndGlyphs" stroke="#2d2f48" stroke-width="1.3" stroke-linejoin="round">NEED IT</text>

<!-- PEACH CHARACTER -->
<ellipse cx="400" cy="1019" rx="75" ry="8" fill="#9ccb6c"/>
<g transform="rotate(-18 460 968)"><ellipse cx="462" cy="968" rx="17" ry="52" fill="#e8892a" stroke="#c86f16" stroke-width="3"/><ellipse cx="456" cy="968" rx="15" ry="50" fill="#f59a36" stroke="#c86f16" stroke-width="2.5"/></g>
<g stroke="#111" stroke-width="5" stroke-linejoin="round" stroke-linecap="round" fill="#fcd9a6">
<ellipse cx="345" cy="1011" rx="16" ry="11"/>
<ellipse cx="400" cy="1013" rx="17" ry="10"/>
<path d="M436,880 C448,886 455,896 453,908 C451,918 446,924 440,924 Z"/>
<path d="M330,866 C322,890 314,930 310,960 C308,970 307,976 307,978 C325,998 395,1012 444,990 C443,950 438,900 426,866"/>
<path d="M330,868 C312,878 296,890 291,904 C287,916 290,926 300,930 C310,932 322,926 335,907" />
<ellipse cx="390" cy="795" rx="82" ry="77"/>
</g>
<g fill="#111">
<ellipse cx="347" cy="798" rx="5.5" ry="16"/><ellipse cx="386" cy="798" rx="5.5" ry="16"/>
</g>
<path d="M328,777 C336,770 344,767 353,770 M376,772 C386,772 395,775 401,779" stroke="#111" stroke-width="3.5" fill="none" stroke-linecap="round"/>
<path d="M368,849 C366,838 370,831 377,831 C384,831 388,838 386,849 Z" fill="#fff" stroke="#111" stroke-width="3.5" stroke-linejoin="round"/>

<!-- TRAP standing jaw -->
<path d="M380,1228 C360,1238 344,1262 336,1290 L328,1316 L378,1326 L398,1230 Z" fill="#b8794a"/>
<path d="M322,1232 L334,1227 L340,1237 L343,1222 L352,1231 L360,1221 L369,1228 L378,1219 L395,1224 L392,1234 C372,1236 352,1252 342,1276 C336,1290 333,1304 331,1312 L320,1310 L320,1250 Z" fill="#8e8e8e" stroke="#5f5f5f" stroke-width="3.5" stroke-linejoin="round"/>
<path d="M378,1219 C400,1217 416,1228 419,1250 C421,1275 417,1300 408,1322 C402,1336 396,1344 391,1346 L374,1346 L373,1331 L380,1320 L374,1313 L388,1302 L382,1294 L394,1283 L387,1274 L398,1265 L390,1256 L400,1247 L391,1240 L399,1232 L392,1226 Z" fill="#c8c8c8" stroke="#5f5f5f" stroke-width="3.5" stroke-linejoin="round"/>
<path d="M308,1311 L352,1329" stroke="#5f5f5f" stroke-width="10" stroke-linecap="round"/>
<path d="M308,1311 L352,1329" stroke="#bdbdbd" stroke-width="5" stroke-linecap="round"/>
<!-- trap back jaw teeth -->
<path d="M153,1325 L156,1302 L166,1312 L176,1296 L186,1310 L196,1294 L206,1308 L216,1293 L226,1306 L236,1294 L240,1322 Z" fill="#8e8e8e" stroke="#666" stroke-width="3" stroke-linejoin="round"/>
<!-- trap base -->
<ellipse cx="262" cy="1351" rx="112" ry="36" fill="#c2c2c2" stroke="#666" stroke-width="4.5"/>
<ellipse cx="258" cy="1344" rx="96" ry="24" fill="#9fd070" stroke="#666" stroke-width="3"/>
<path d="M163,1342 L178,1338 L186,1364 L196,1340 L210,1368 L222,1342 L236,1371 L248,1344 L262,1372 L274,1345 L288,1371 L300,1344 L312,1368 L324,1343 L336,1364 L344,1340 L352,1352 C345,1372 300,1382 262,1382 C220,1382 175,1372 163,1352 Z" fill="#c2c2c2" stroke="#666" stroke-width="3" stroke-linejoin="round"/>
<path d="M350,1330 C352,1322 372,1320 376,1328 L378,1348 L352,1352 Z" fill="#c8c8c8" stroke="#5f5f5f" stroke-width="3" stroke-linejoin="round"/><ellipse cx="363" cy="1337" rx="8" ry="5" fill="#c8c8c8" stroke="#5f5f5f" stroke-width="3"/>
<!-- phone in trap -->
<g transform="translate(277,1293) rotate(14)">
<rect x="-28" y="-54" width="56" height="108" rx="11" fill="#f3f6f8" stroke="#383838" stroke-width="6"/>
<rect x="-23" y="-49" width="46" height="98" rx="8" fill="none" stroke="#9a9a9a" stroke-width="2"/>
<circle cx="-8" cy="43" r="4" fill="none" stroke="#383838" stroke-width="2.5"/>
<path d="M-10,-18 l0,11 M6,-16 l0,11" stroke="#222" stroke-width="4" stroke-linecap="round"/>
<path d="M-5,6 c2,3 5,3 7,0" stroke="#222" stroke-width="1.5" fill="none"/>
</g>
<!-- NEW tag -->
<path d="M186,1140 L219,1122 L270,1198 L268,1230 L252,1240 L223,1233 L183,1169 Z" fill="#fbd232" stroke="#e0a01a" stroke-width="3" stroke-linejoin="round"/>
<text transform="translate(224,1180) rotate(58)" text-anchor="middle" dy="10" font-size="29" fill="#4b4b4b" textLength="74" lengthAdjust="spacingAndGlyphs" stroke="#4b4b4b" stroke-width="0.9" stroke-linejoin="round">NEW</text>

<!-- BLUE CHARACTER -->
<g stroke="#111" stroke-width="5" stroke-linejoin="round" stroke-linecap="round" fill="#cdeef9">
<ellipse cx="57" cy="1357" rx="17" ry="10"/>
<ellipse cx="111" cy="1362" rx="19" ry="10"/>
<path d="M143,1226 C160,1232 180,1240 187,1250 C190,1262 182,1268 170,1267 L154,1264 Z"/>
<path d="M54,1208 C35,1225 20,1240 12,1255 L10,1320 C30,1345 80,1356 150,1338 C156,1300 156,1260 141,1216"/>
<ellipse cx="102" cy="1140" rx="82" ry="77"/>
</g>
<g fill="#111">
<ellipse cx="107" cy="1146" rx="6" ry="17"/><ellipse cx="148" cy="1146" rx="5.5" ry="17"/>
</g>
<path d="M106,1121 c2,-3 5,-3 7,-2 M153,1119 c2,-1 5,0 6,3" stroke="#111" stroke-width="2.5" fill="none"/>
<path d="M106,1182 C106,1194 116,1195 116,1182 Z" fill="#fff" stroke="#111" stroke-width="3"/>
<!-- phone held -->
<g transform="translate(22,1290) rotate(23)">
<rect x="-55" y="-24" width="100" height="50" rx="10" fill="#f3f6f8" stroke="#383838" stroke-width="6"/>
<path d="M5,-10 l9,0 M5,5 l9,0" stroke="#222" stroke-width="4" stroke-linecap="round"/>
</g>
<path d="M54,1208 C35,1220 20,1230 12,1242 C2,1258 2,1275 18,1277 C32,1278 42,1266 48,1252" stroke="#111" stroke-width="5" fill="#cdeef9" stroke-linecap="round" stroke-linejoin="round"/>
<rect x="0" y="0" width="1859" height="3.5" fill="#333452"/>
<rect x="1848" y="0" width="7" height="1415" fill="#333452"/>
<rect x="1855" y="0" width="4" height="1415" fill="#fbfbfd"/>
<rect x="0" y="1411" width="1855" height="4" fill="#3a3350"/>
<text x="10" y="32" font-size="16" fill="#2b3448" textLength="95" lengthAdjust="spacingAndGlyphs">@LINASEICHE</text>
</svg>
</body></html>
